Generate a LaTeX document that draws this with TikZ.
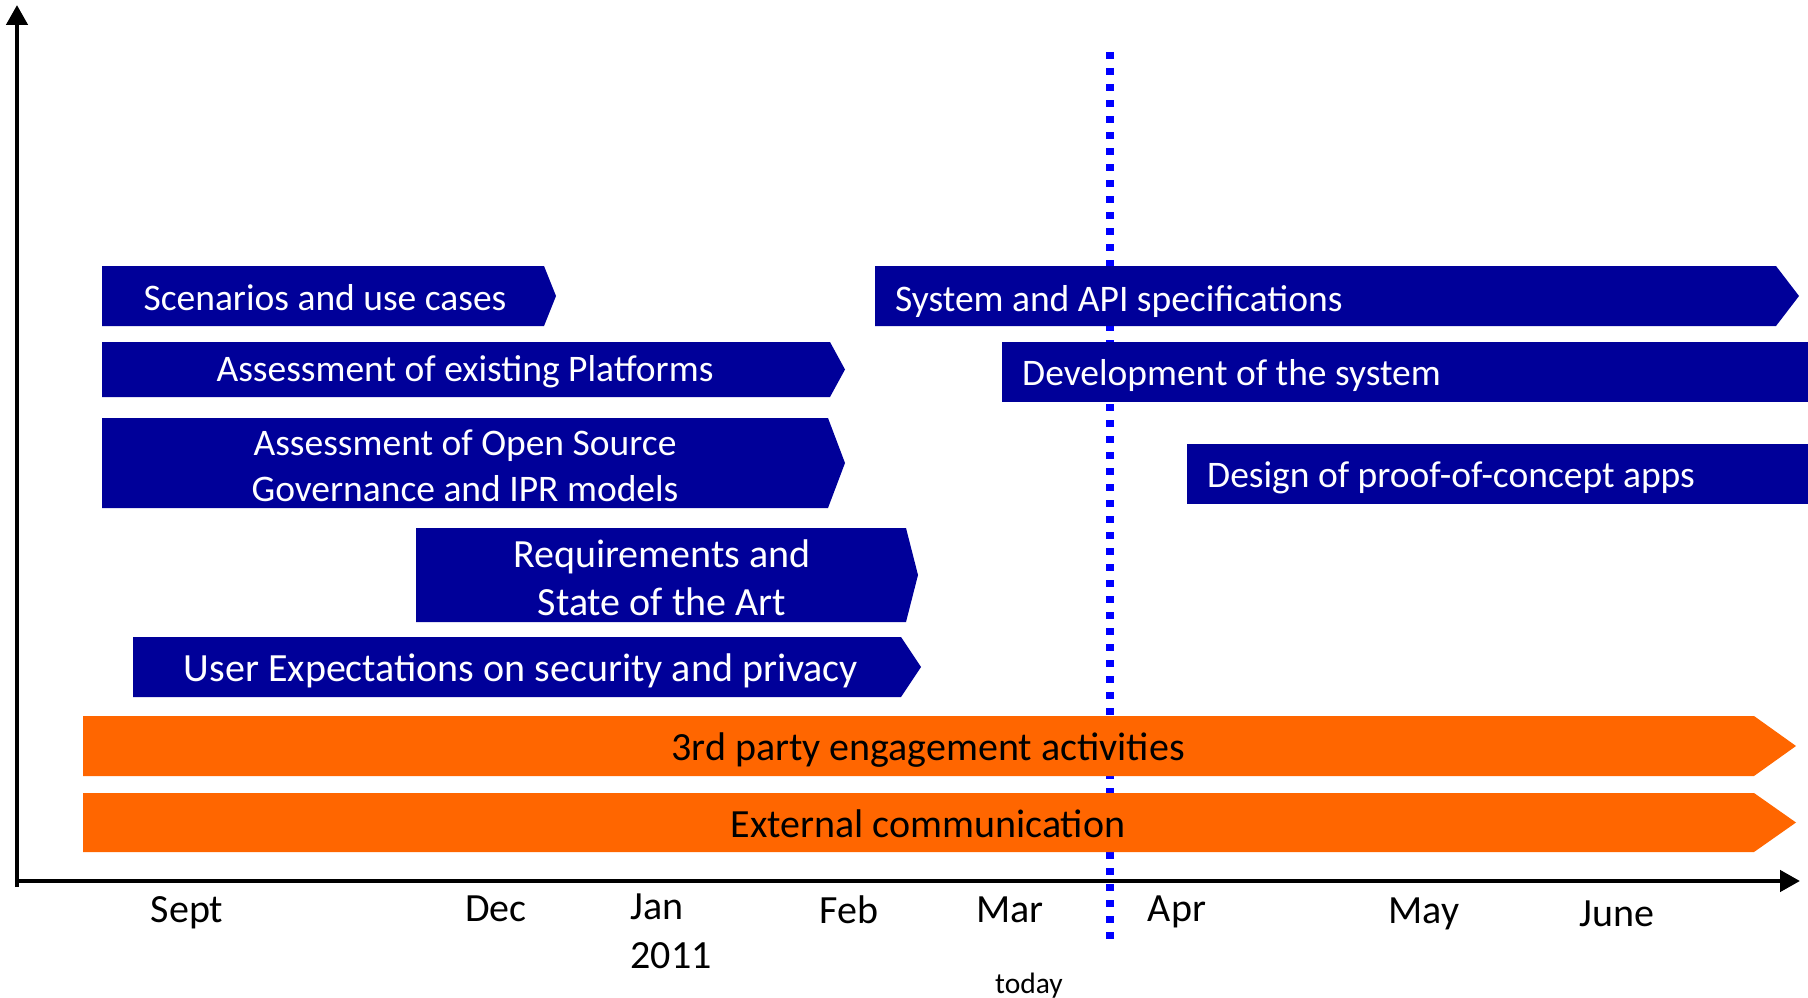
\documentclass[tikz,border=0pt]{standalone}
\usepackage{fontspec}
\setmainfont{Carlito}
\usetikzlibrary{arrows.meta}
\definecolor{barblue}{RGB}{0,0,153}
\definecolor{barorange}{RGB}{255,102,0}
\definecolor{todayblue}{RGB}{0,0,255}
\tikzset{
  axis/.style={line width=4.5pt, black, -{Triangle[length=20pt,width=21pt]}},
  todayline/.style={todayblue, line width=7.3pt, dash pattern=on 7pt off 9pt},
  bluebar/.style={fill=barblue},
  orangebar/.style={fill=barorange},
  bartext/.style={text=white, font=\fontsize{37.5}{46}\selectfont, align=center, inner sep=0pt},
  bigbartext/.style={text=white, font=\fontsize{40}{48}\selectfont, align=center, inner sep=0pt},
  orangetext/.style={text=black, font=\fontsize{40}{46}\selectfont, inner sep=0pt},
  month/.style={font=\fontsize{40}{47}\selectfont, inner sep=0pt, align=center},
  todaytext/.style={font=\fontsize{29.5}{34}\selectfont, inner sep=0pt}
}
\begin{document}
\begin{tikzpicture}[x=1pt,y=-1pt]
\useasboundingbox (0,0) rectangle (1808,998);
% axes
\coordinate (origin) at (17,887);
\coordinate (ytop) at (17,5);
\coordinate (xleft) at (15,881);
\coordinate (xright) at (1800,881);
\draw[axis] (origin) -- (ytop);
\draw[axis] (xleft) -- (xright);
% today line
\coordinate (ttop) at (1110,52);
\coordinate (tbot) at (1110,940);
\draw[todayline] (ttop) -- (tbot);
% bars
\fill[bluebar] (102,266) -- (544,266) -- (556,296) -- (544,326) -- (102,326) -- cycle;
\fill[bluebar] (102,342) -- (830,342) -- (845,369.5) -- (830,397) -- (102,397) -- cycle;
\fill[bluebar] (102,418) -- (828,418) -- (845,463) -- (828,508) -- (102,508) -- cycle;
\fill[bluebar] (416,528) -- (906,528) -- (918,575) -- (906,622) -- (416,622) -- cycle;
\fill[bluebar] (133,637) -- (901,637) -- (921,667) -- (901,697) -- (133,697) -- cycle;
\fill[orangebar] (83,716) -- (1754,716) -- (1796,746) -- (1754,776) -- (83,776) -- cycle;
\fill[orangebar] (83,793) -- (1754,793) -- (1796,822.5) -- (1754,852) -- (83,852) -- cycle;
\fill[bluebar] (875,266) -- (1776,266) -- (1799,296) -- (1776,326) -- (875,326) -- cycle;
\fill[bluebar] (1002,342) rectangle (1808,402);
\fill[bluebar] (1187,444) rectangle (1808,504);
% bar labels
\node[bartext] (scen) at (325,298) {Scenarios and use cases};
\node[bartext] (plat) at (465,372) {Assessment of existing Platforms};
\node[bartext] (oss) at (465,466) {Assessment of Open Source\\Governance and IPR models};
\node[bigbartext] (req) at (662,578) {Requirements and\\State of the Art};
\node[bigbartext] (user) at (521,671) {User Expectations on security and privacy};
\node[orangetext] (third) at (928,750) {3rd party engagement activities};
\node[orangetext] (ext) at (928,824) {External communication};
\node[bartext, anchor=west] (sys) at (895,301) {System and API specifications};
\node[bartext, anchor=west] (dev) at (1022,375) {Development of the system};
\node[bartext, anchor=west] (poc) at (1207,478) {Design of proof-of-concept apps};
% months
\node[month] (sept) at (187,913) {Sept};
\node[month] (dec) at (496,909) {Dec};
\node[month, align=left] (jan) at (671,931) {Jan\\[2pt]2011};
\node[month] (feb) at (849,910) {Feb};
\node[month] (mar) at (1010,910) {Mar};
\node[month] (apr) at (1177,912) {Apr};
\node[month] (may) at (1424,914) {May};
\node[month] (june) at (1617,914) {June};
\node[todaytext] (today) at (1029,986) {today};
\end{tikzpicture}
\end{document}
